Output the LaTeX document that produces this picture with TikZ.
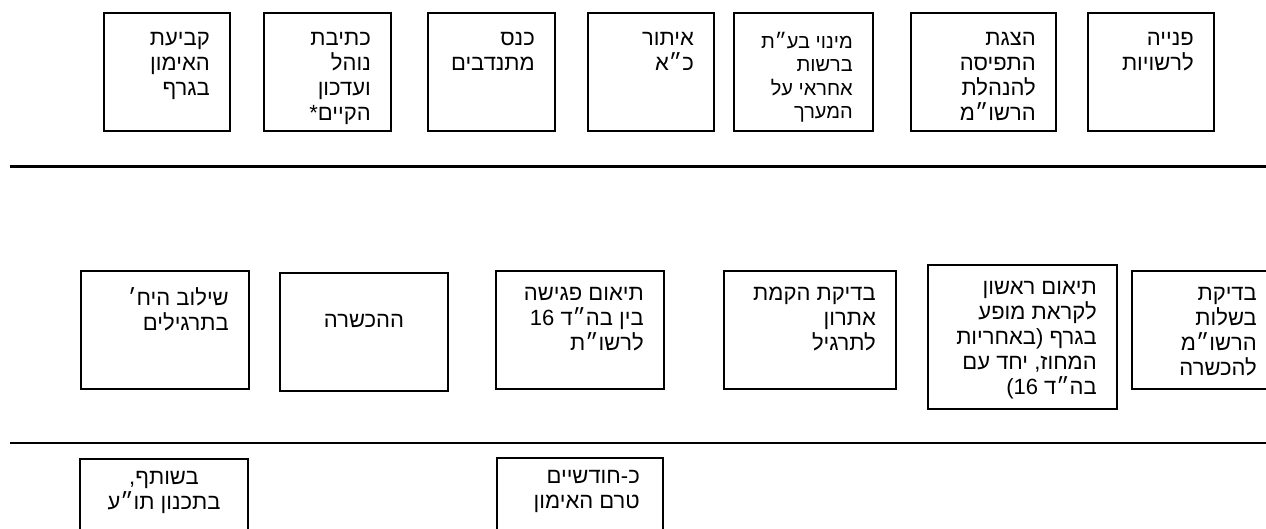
\documentclass[tikz,border=0pt]{standalone}
\usepackage{fontspec}
\newfontfamily\hebfont[Script=Hebrew]{Liberation Sans}
\TeXXeTstate=1
\usetikzlibrary{positioning}
\tikzset{box/.style={draw,line width=2pt,inner sep=0pt,anchor=north west,minimum height=118pt},
  boxtext/.style={inner sep=0pt,align=right,font=\hebfont\fontsize{22}{25}\selectfont},
  smalltext/.style={inner sep=0pt,align=right,font=\hebfont\fontsize{20}{23.5}\selectfont},
  separator/.style={line width=2.2pt}}
\newcommand{\heb}[1]{\beginR #1\endR}

\begin{document}
\begin{tikzpicture}[x=1pt,y=-1pt]
\useasboundingbox (0,0) rectangle (1266,528);
\foreach \n/\x/\w/\st/\txt in {
t1/103/126/boxtext/{\heb{קביעת}\\\heb{האימון}\\\heb{בגרף}},
t2/263/127/boxtext/{\heb{כתיבת}\\\heb{נוהל}\\\heb{ועדכון}\\\heb{הקיים*}},
t3/427/127/boxtext/{\heb{כנס}\\\heb{מתנדבים}},
t4/587/126/boxtext/{\heb{איתור}\\\heb{כ״א}},
t5/733/139/smalltext/{\heb{מינוי בע״ת}\\\heb{ברשות}\\\heb{אחראי על}\\\heb{המערך}},
t6/910/145/boxtext/{\heb{הצגת}\\\heb{התפיסה}\\\heb{להנהלת}\\\heb{הרשו״מ}},
t7/1087/126/boxtext/{\heb{פנייה}\\\heb{לרשויות}}} {
\node[box,minimum width=\w pt] (\n) at (\x,12) {};
\node[\st,below left=20pt and 21pt of \n.north east] (\n txt) {\txt};
};
\draw[separator] (10,166.5) -- (1266,166.5);
\foreach \n/\x/\y/\w/\h/\txt in {
m1/80/270/168/118/{\heb{שילוב היח׳}\\\heb{בתרגילים}},
m3/495/270/168/118/{\heb{תיאום פגישה}\\\heb{בין בה״ד \beginL 16\endL}\\\heb{לרשו״ת}},
m4/723/270/172/118/{\heb{בדיקת הקמת}\\\heb{אתרון}\\\heb{לתרגיל}},
m5/927/264/189/144/{\heb{תיאום ראשון}\\\heb{לקראת מופע}\\\heb{בגרף (באחריות}\\\heb{המחוז, יחד עם}\\\heb{בה״ד \beginL 16\endL)}},
m6/1131/270/145/118/{\heb{בדיקת}\\\heb{בשלות}\\\heb{הרשו״מ}\\\heb{להכשרה}}} {
\node[box,minimum width=\w pt,minimum height=\h pt] (\n) at (\x,\y) {};
\node[boxtext,below left=17pt and 21pt of \n.north east] (\n txt) {\txt};
};
\node[box,minimum width=168pt] (m2) at (279,272) {};
\node[boxtext] (m2txt) at ([yshift=11pt]m2.center) {\heb{ההכשרה}};
\draw[separator] (10,443) -- (1266,443);
\node[box,minimum width=168pt,minimum height=100pt] (b1) at (79,458) {};
\node[boxtext,align=center,below=13pt of b1.north] (b1txt) {\heb{בשותף,}\\\heb{בתכנון תו״ע}};
\node[box,minimum width=166pt,minimum height=100pt] (b2) at (496,457) {};
\node[boxtext,below left=13pt and 24pt of b2.north east] (b2txt) {\heb{כ-חודשיים}\\\heb{טרם האימון}};
\end{tikzpicture}
\end{document}
